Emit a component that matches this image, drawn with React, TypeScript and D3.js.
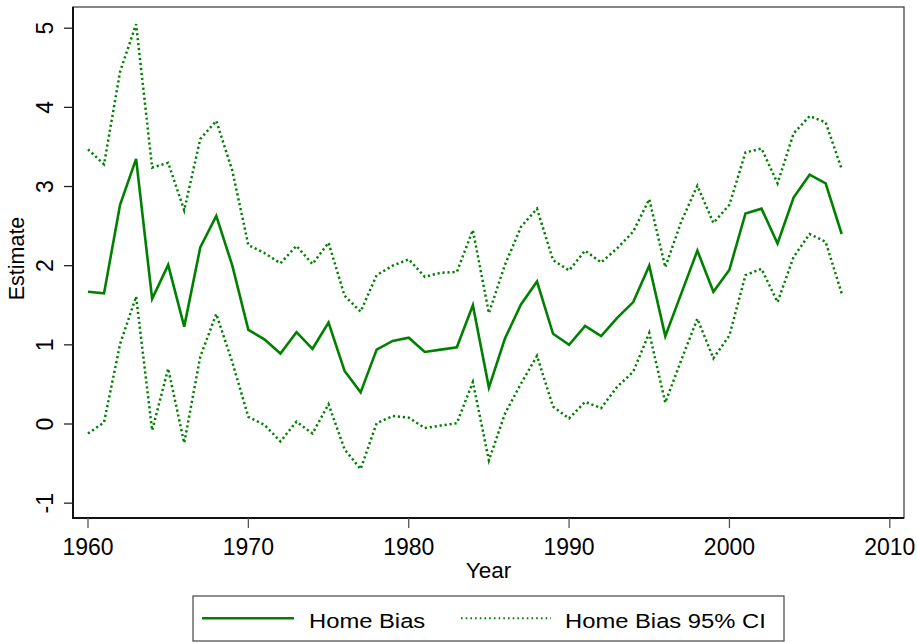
import React from "react";
import * as d3 from "d3";

const years = d3.range(1960, 2008);

const estimate = [
  1.67, 1.65, 2.77, 3.35, 1.58, 2.01, 1.23, 2.23, 2.63, 2.0,
  1.19, 1.07, 0.89, 1.16, 0.95, 1.28, 0.67, 0.4, 0.94, 1.05,
  1.09, 0.91, 0.94, 0.97, 1.5, 0.46, 1.08, 1.51, 1.8, 1.14,
  1.0, 1.24, 1.11, 1.34, 1.54, 2.0, 1.11, 1.65, 2.19, 1.67,
  1.95, 2.66, 2.72, 2.28, 2.86, 3.15, 3.04, 2.4,
];

const upper = [
  3.47, 3.28, 4.45, 5.05, 3.24, 3.3, 2.7, 3.6, 3.83, 3.2,
  2.26, 2.16, 2.03, 2.25, 2.02, 2.29, 1.62, 1.42, 1.88, 2.0,
  2.08, 1.86, 1.91, 1.92, 2.45, 1.4, 2.01, 2.49, 2.72, 2.07,
  1.94, 2.19, 2.04, 2.22, 2.43, 2.84, 1.98, 2.56, 3.01, 2.54,
  2.77, 3.43, 3.48, 3.04, 3.67, 3.89, 3.81, 3.22,
];

const lower = [
  -0.12, 0.02, 1.01, 1.61, -0.08, 0.7, -0.24, 0.85, 1.39, 0.78,
  0.09, -0.01, -0.22, 0.03, -0.12, 0.25, -0.32, -0.57, 0.01, 0.1,
  0.08, -0.05, -0.02, 0.01, 0.53, -0.46, 0.13, 0.51, 0.86, 0.22,
  0.07, 0.28, 0.2, 0.47, 0.66, 1.15, 0.27, 0.81, 1.33, 0.83,
  1.12, 1.88, 1.96, 1.54, 2.11, 2.4, 2.3, 1.65,
];

const xTicks = [1960, 1970, 1980, 1990, 2000, 2010];
const yTicks = [-1, 0, 1, 2, 3, 4, 5];

const GREEN = "#008000";
const FONT = "Liberation Sans, Arial, sans-serif";

export default function App() {
  const left = 73;
  const right = 904;
  const top = 7;
  const bottom = 518;

  const x = d3.scaleLinear().domain([1960, 2010]).range([88, 889.8]);
  const y = d3.scaleLinear().domain([0, 5]).range([424, 28.2]);

  const line = d3
    .line<number>()
    .x((_, i) => x(years[i]))
    .y((d) => y(d));

  return (
    <svg
      width={917}
      height={643}
      style={{position: "absolute", left: 0, top: 0, background: "#fff"}}
      fontFamily={FONT}
    >
      {/* plot region */}
      <rect
        x={left}
        y={top}
        width={right - left}
        height={bottom - top}
        fill="#fff"
        stroke="#444"
        strokeWidth={1.3}
      />

      {/* series */}
      <path d={line(upper)} fill="none" stroke={GREEN} strokeWidth={2.5} strokeDasharray="2.2 2.8" />
      <path d={line(lower)} fill="none" stroke={GREEN} strokeWidth={2.5} strokeDasharray="2.2 2.8" />
      <path d={line(estimate)} fill="none" stroke={GREEN} strokeWidth={2.6} />

      {/* axes */}
      <line x1={left} x2={left} y1={top} y2={bottom + 1} stroke="#111" strokeWidth={2} />
      <line x1={left - 1} x2={right} y1={bottom} y2={bottom} stroke="#111" strokeWidth={2} />

      {yTicks.map((t) => (
        <g key={t}>
          <line x1={left - 9} x2={left} y1={y(t)} y2={y(t)} stroke="#222" strokeWidth={1.3} />
          <text
            transform={`translate(53,${y(t)}) rotate(-90)`}
            textAnchor="middle"
            fontSize={23}
            fill="#000"
          >
            {t}
          </text>
        </g>
      ))}

      {xTicks.map((t) => (
        <g key={t}>
          <line x1={x(t)} x2={x(t)} y1={bottom} y2={bottom + 10} stroke="#555" strokeWidth={1.3} />
          <text x={x(t)} y={555} textAnchor="middle" fontSize={23} fill="#000">
            {t}
          </text>
        </g>
      ))}

      <text x={(left + right) / 2} y={578} textAnchor="middle" fontSize={22.5} fill="#000">
        Year
      </text>
      <text
        transform={`translate(24,${(top + bottom) / 2 - 4}) rotate(-90)`}
        textAnchor="middle"
        fontSize={21.5}
        fill="#000"
      >
        Estimate
      </text>

      {/* legend */}
      <rect x={193} y={596} width={591} height={45} fill="#fff" stroke="#444" strokeWidth={1.2} />
      <line x1={202} x2={294} y1={618.3} y2={618.3} stroke={GREEN} strokeWidth={2.6} />
      <text transform="translate(309,627.5) scale(1.16,1)" fontSize={20.5} fill="#000">
        Home Bias
      </text>
      <line x1={461} x2={551} y1={618.3} y2={618.3} stroke={GREEN} strokeWidth={2} strokeDasharray="1.6 3.1" />
      <text transform="translate(565,627.5) scale(1.16,1)" fontSize={20.5} fill="#000">
        Home Bias 95% CI
      </text>
    </svg>
  );
}
